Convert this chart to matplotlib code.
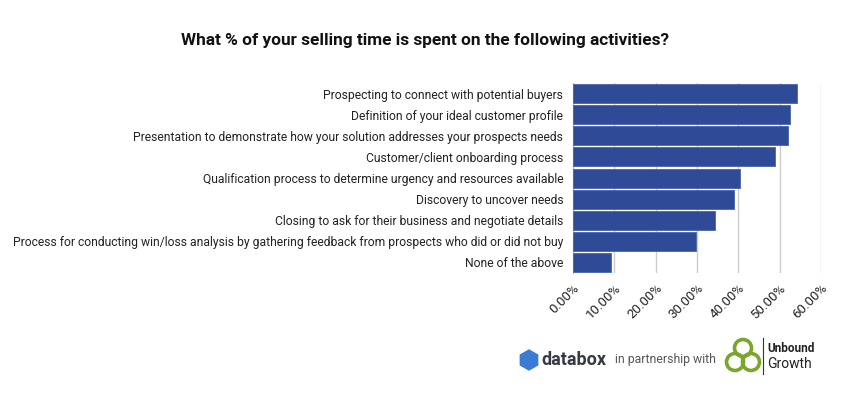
import matplotlib.pyplot as plt
from matplotlib.patches import Circle, RegularPolygon

plt.rcParams['font.family'] = ['Roboto', 'DejaVu Sans']

# Data
activities = [
    "Prospecting to connect with potential buyers",
    "Definition of your ideal customer profile",
    "Presentation to demonstrate how your solution addresses your prospects needs",
    "Customer/client onboarding process",
    "Qualification process to determine urgency and resources available",
    "Discovery to uncover needs",
    "Closing to ask for their business and negotiate details",
    "Process for conducting win/loss analysis by gathering feedback from prospects who did or did not buy",
    "None of the above",
]
shares = [54.2, 52.6, 51.9, 48.9, 40.4, 39.0, 34.4, 29.8, 9.1]
tick_values = [0, 10, 20, 30, 40, 50, 60]
tick_labels = ["0.00%", "10.00%", "20.00%", "30.00%", "40.00%", "50.00%", "60.00%"]

fig = plt.figure(figsize=(8.5, 4), dpi=100)
ax = fig.add_axes([0.674, 0.3175, 0.292, 0.475])

ypos = list(range(len(activities)))
ax.barh(ypos, shares, height=0.9, color='#2f4a96', edgecolor='#4a64aa', linewidth=0.6, zorder=3)
ax.set_ylim(len(activities) - 0.5, -0.5)
ax.set_xlim(0, 60)
ax.set_yticks(ypos)
ax.set_yticklabels(activities, fontsize=8.7, color='#222222')
ax.set_xticks(tick_values)
ax.set_xticklabels(tick_labels, rotation=45, ha='right', rotation_mode='anchor', fontsize=9.5, color='#222222')
ax.tick_params(length=0, pad=6)
ax.tick_params(axis='y', pad=7)
ax.grid(axis='x', color='#cccccc', linewidth=1, zorder=0)
for s in ['top', 'right', 'bottom']:
    ax.spines[s].set_visible(False)
ax.spines['left'].set_color('#bbbbbb')

fig.text(0.5, 0.9, "What % of your selling time is spent on the following activities?",
         ha='center', va='center', fontsize=12.4, fontweight='bold', color='#111111')

# Footer logos
fig.patches.append(RegularPolygon((529, 40), numVertices=6, radius=10, color='#3a7bd5',
                                  transform=None, figure=fig))
fig.text(541 / 850, 40 / 400, "databox", fontsize=13, fontweight='bold', color='#333a44', va='center')
fig.text(615 / 850, 40 / 400, "in partnership with", fontsize=8.8, color='#555555', va='center')
for cx, cy in [(743, 52), (735, 38), (751, 38)]:
    fig.patches.append(Circle((cx, cy), 8.5, fill=False, edgecolor='#7aa62c', linewidth=2.6,
                              transform=None, figure=fig))
fig.lines.append(plt.Line2D([763 / 850, 763 / 850], [26 / 400, 62 / 400], color='#333333',
                            linewidth=0.8, transform=fig.transFigure))
fig.text(767 / 850, 51 / 400, "Unbound", fontsize=8.5, fontweight='bold', color='#222222', va='center')
fig.text(767 / 850, 36 / 400, "Growth", fontsize=10, color='#222222', va='center')

fig.savefig("out.png", dpi=100, facecolor='white')
